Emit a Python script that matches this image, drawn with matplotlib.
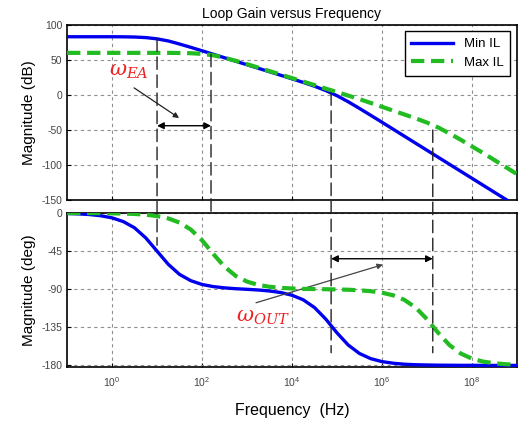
import numpy as np
import matplotlib
matplotlib.use("Agg")
import matplotlib.pyplot as plt
from matplotlib.patches import ConnectionPatch

plt.rcParams['font.family'] = ['Liberation Sans', 'DejaVu Sans']
plt.rcParams['mathtext.fontset'] = 'dejavuserif'
plt.rcParams['axes.unicode_minus'] = False

# frecuencia en decadas (log10 Hz)
freq_exp = [-1.0, -0.75, -0.5, -0.25, 0.0, 0.25, 0.5, 0.75, 1.0, 1.25,
            1.5, 1.75, 2.0, 2.25, 2.5, 2.75, 3.0, 3.25, 3.5, 3.75,
            4.0, 4.25, 4.5, 4.75, 5.0, 5.25, 5.5, 5.75, 6.0, 6.25,
            6.5, 6.75, 7.0, 7.25, 7.5, 7.75, 8.0, 8.25, 8.5, 8.75, 9.0]

# magnitud (dB)
mag_min_il = [83.0, 83.0, 83.0, 83.0, 83.0, 82.9, 82.6, 81.8, 80.0, 77.0,
              72.6, 67.9, 63.0, 58.0, 53.0, 48.0, 43.0, 38.0, 33.0, 28.0,
              22.9, 17.8, 12.4, 6.2, -1.1, -9.8, -19.3, -29.1, -39.0, -49.0,
              -59.0, -69.0, -79.0, -89.0, -99.0, -109.0, -119.0, -129.0, -139.0, -149.0, -159.0]
mag_max_il = [60.0, 60.0, 60.0, 60.0, 60.0, 60.0, 60.0, 60.0, 60.0, 60.0,
              59.8, 59.5, 58.5, 56.5, 53.0, 48.7, 43.9, 39.0, 34.0, 29.0,
              24.0, 19.0, 14.0, 9.0, 4.0, -1.0, -6.0, -11.5, -17.0, -22.5,
              -28.0, -33.5, -39.5, -46.5, -55.0, -64.0, -73.5, -83.0, -93.0, -103.0, -113.0]

# fase (deg)
ph_min_il = [-0.6, -1.0, -1.8, -3.2, -5.7, -10.1, -17.5, -29.4, -45.0, -60.6,
             -72.5, -79.9, -84.4, -86.9, -88.4, -89.4, -90.1, -90.9, -92.1, -93.9,
             -97.1, -102.5, -111.6, -125.2, -141.5, -155.9, -165.9, -172.0, -175.5, -177.4,
             -178.6, -179.2, -179.5, -179.7, -179.8, -179.9, -179.9, -180.0, -180.0, -180.0, -180.0]
ph_max_il = [0.0, 0.0, -0.1, -0.2, -0.4, -0.6, -1.1, -2.0, -3.6, -6.4,
             -11.3, -19.5, -32.2, -48.3, -63.4, -74.3, -81.0, -84.9, -87.1, -88.4,
             -89.1, -89.6, -89.8, -90.0, -90.3, -90.6, -91.3, -92.3, -94.1, -97.2,
             -102.6, -111.7, -125.3, -141.5, -155.9, -165.9, -172.0, -175.5, -177.4, -178.6, -179.2]

# marcadores verticales (log10 Hz) y extremos (dB arriba, deg abajo)
mark_exp = [1.0, 2.2, 4.87, 7.13]
mark_top = [80, 58, 3, -50]
mark_bot = [-38, 0, -165, -165]

freq = 10.0 ** np.array(freq_exp)
marks = 10.0 ** np.array(mark_exp)

fig = plt.figure(figsize=(5.2, 4.21), dpi=100)
ax1 = fig.add_axes([0.129, 0.525, 0.865, 0.416])
ax2 = fig.add_axes([0.129, 0.128, 0.865, 0.366])

blue = '#0000ee'
green = '#22bb22'
grid_kw = dict(color='#909090', linestyle=(0, (3, 3)), linewidth=0.8)

ax1.semilogx(freq, mag_min_il, color=blue, lw=2.4, label='Min IL', zorder=3)
ax1.semilogx(freq, mag_max_il, color=green, lw=3, ls=(0, (3.2, 1.6)), label='Max IL', zorder=4)
ax1.set_ylim(-150, 100)
ax1.set_yticks([100, 50, 0, -50, -100, -150])
ax1.set_ylabel('Magnitude (dB)', fontsize=11)
ax1.set_title('Loop Gain versus Frequency', fontsize=10, pad=5)
leg = ax1.legend(loc='upper right', fontsize=9.5, fancybox=False, framealpha=1,
                 edgecolor='black', handlelength=3.2, borderpad=0.5)
leg.get_frame().set_linewidth(1.0)

ax2.semilogx(freq, ph_min_il, color=blue, lw=2.4, zorder=3)
ax2.semilogx(freq, ph_max_il, color=green, lw=3, ls=(0, (3.2, 1.6)), zorder=4)
ax2.set_ylim(-182, 0)
ax2.set_yticks([0, -45, -90, -135, -180])
ax2.set_ylabel('Magnitude (deg)', fontsize=11)
ax2.set_xlabel('Frequency  (Hz)', fontsize=11.5, labelpad=10)

for ax in (ax1, ax2):
    ax.set_xlim(1e-1, 1e9)
    ax.set_xticks([1e0, 1e2, 1e4, 1e6, 1e8])
    ax.xaxis.set_minor_locator(matplotlib.ticker.NullLocator())
    ax.grid(True, which='major', **grid_kw)
    ax.tick_params(labelsize=7.5, labelcolor='#444444', length=3, direction='in')
    ax.tick_params(axis='x', pad=6)
    for s in ax.spines.values():
        s.set_linewidth(1.2)
ax1.set_xticklabels([])

# lineas verticales discontinuas entre ambos ejes
for xm, yt, yb in zip(marks, mark_top, mark_bot):
    con = ConnectionPatch(xyA=(xm, yt), coordsA=ax1.transData,
                          xyB=(xm, yb), coordsB=ax2.transData,
                          color='#222222', lw=1, linestyle=(0, (9, 4)), zorder=5)
    fig.add_artist(con)

# anotaciones
ax1.annotate('', xy=(marks[1], -44), xytext=(marks[0], -44),
             arrowprops=dict(arrowstyle='<|-|>', color='black', lw=1, mutation_scale=10,
                             shrinkA=0, shrinkB=0))
ax1.annotate('', xy=(10 ** 1.49, -33), xytext=(10 ** 0.49, 10),
             arrowprops=dict(arrowstyle='-|>', color='#222222', lw=0.9, mutation_scale=8,
                             shrinkA=0, shrinkB=0))
ax1.text(10 ** 0.36, 34, r'$\omega_{EA}$', color='#ee2222', fontsize=15,
         ha='center', va='center')

ax2.annotate('', xy=(marks[3], -54), xytext=(marks[2], -54),
             arrowprops=dict(arrowstyle='<|-|>', color='black', lw=1, mutation_scale=10,
                             shrinkA=0, shrinkB=0))
ax2.annotate('', xy=(10 ** 6.02, -61), xytext=(10 ** 3.2, -106),
             arrowprops=dict(arrowstyle='-|>', color='#444444', lw=0.9, mutation_scale=8,
                             shrinkA=0, shrinkB=0))
ax2.text(10 ** 3.36, -123, r'$\omega_{OUT}$', color='#ee2222', fontsize=15,
         ha='center', va='center')

fig.savefig('out.png', dpi=100)
